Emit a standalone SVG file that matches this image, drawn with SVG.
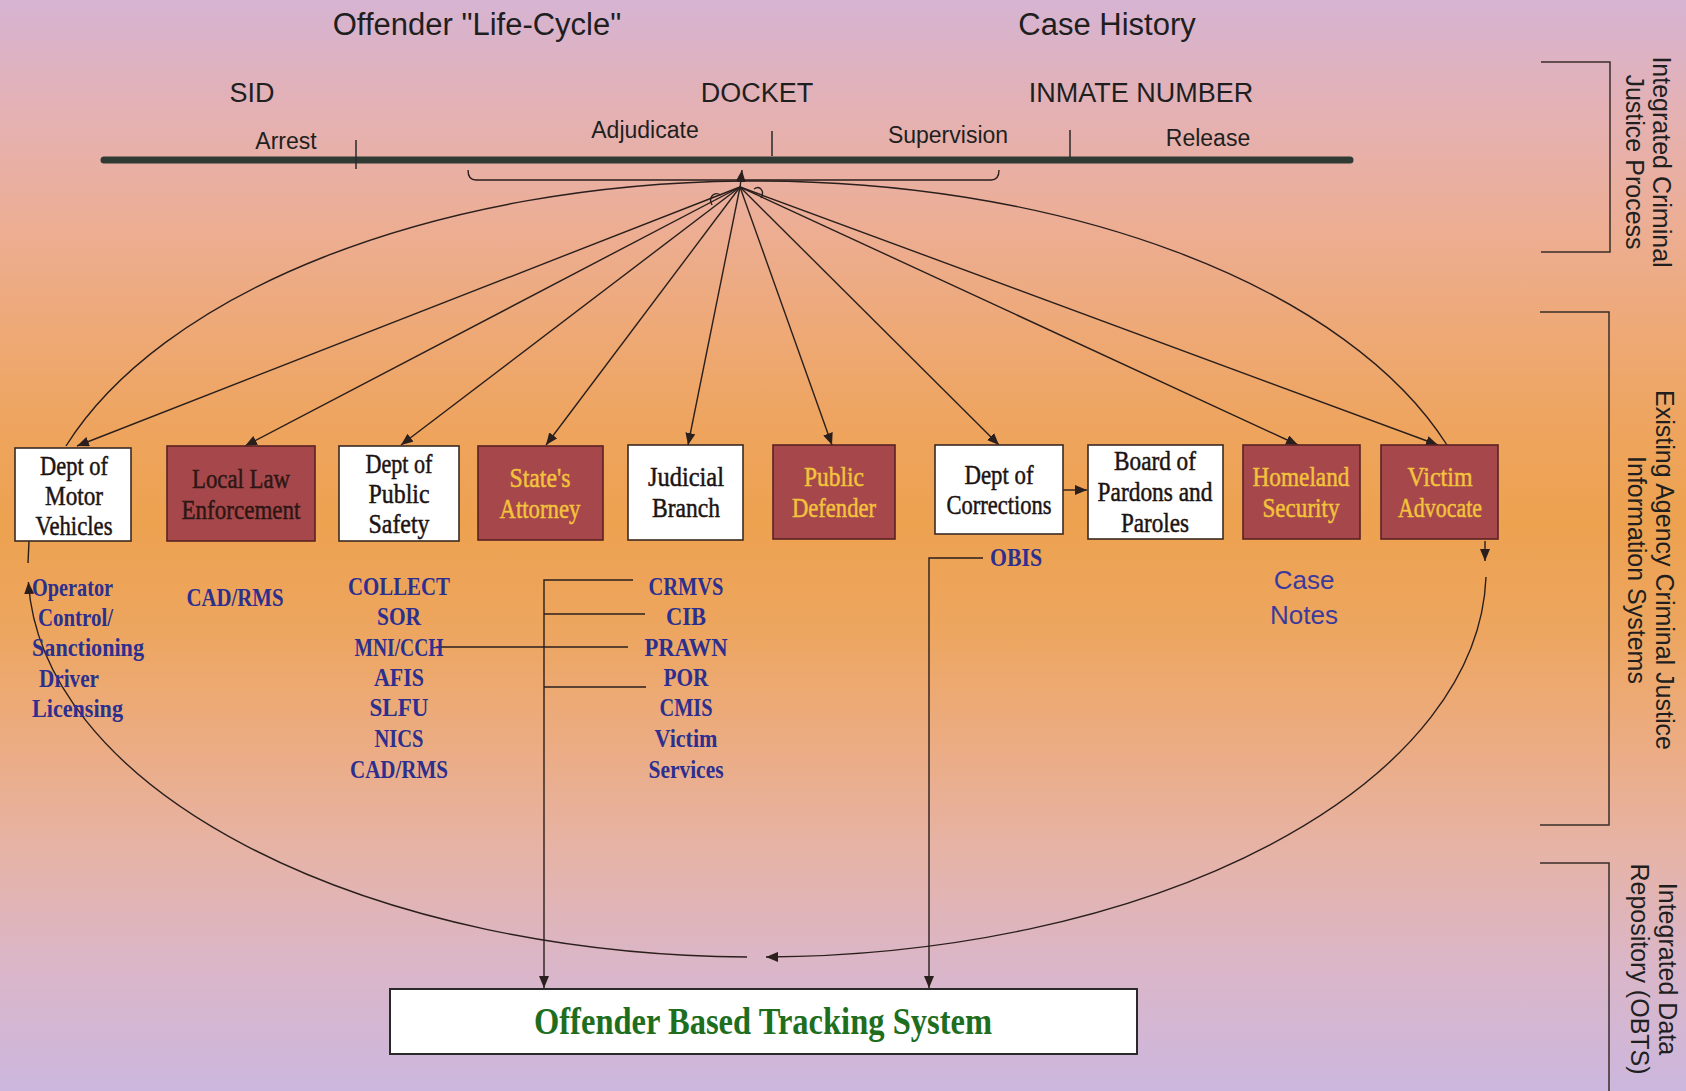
<svg xmlns="http://www.w3.org/2000/svg" width="1686" height="1091" viewBox="0 0 1686 1091">
  <defs>
    <linearGradient id="bg" x1="0" y1="0" x2="0" y2="1">
      <stop offset="0" stop-color="#d6b4d3"/>
      <stop offset="0.1" stop-color="#e4b1b4"/>
      <stop offset="0.2" stop-color="#ecae96"/>
      <stop offset="0.3" stop-color="#eea977"/>
      <stop offset="0.4" stop-color="#eea45c"/>
      <stop offset="0.48" stop-color="#eda250"/>
      <stop offset="0.58" stop-color="#eda660"/>
      <stop offset="0.68" stop-color="#ecac82"/>
      <stop offset="0.78" stop-color="#e6b3a6"/>
      <stop offset="0.88" stop-color="#dbb6c7"/>
      <stop offset="1" stop-color="#ccb7de"/>
    </linearGradient>
    <marker id="arr" markerUnits="userSpaceOnUse" markerWidth="12" markerHeight="10" refX="12" refY="5" orient="auto">
      <path d="M0,0 L12,5 L0,10 z" fill="#2a1f1c"/>
    </marker>
  </defs>
  <style>
    .sans { font-family: "Liberation Sans", Arial, sans-serif; fill: #1f1f1f; }
    .side { font-family: "Liberation Sans", Arial, sans-serif; font-size: 25px; fill: #1f1f1f; text-anchor: middle; }
    .box-w { fill: #ffffff; stroke: #3a2a22; stroke-width: 1.6; }
    .box-r { fill: #a6484b; stroke: #5a2222; stroke-width: 1.6; }
    .lbl { font-family: "Liberation Serif", "Times New Roman", serif; font-size: 28px; text-anchor: middle; stroke-width: 0.5; }
    .dark { fill: #1c1412; stroke: #1c1412; }
    .gold { fill: #f3c33c; stroke: #f3c33c; }
    .maroon { fill: #2e1614; stroke: #2e1614; }
    .sys { font-family: "Liberation Serif", "Times New Roman", serif; font-size: 25px; font-weight: bold; fill: #2d2f8e; }
    .mid { text-anchor: middle; }
    .ln { fill: none; stroke: #2a1f1c; stroke-width: 1.4; }
    .bracket { fill: none; stroke: #3a2e2a; stroke-width: 1.5; }
  </style>

  <rect x="0" y="0" width="1686" height="1091" fill="url(#bg)"/>

  <!-- headings -->
  <g id="headings">
    <text class="sans" x="477" y="35" font-size="31" text-anchor="middle">Offender "Life-Cycle"</text>
    <text class="sans" x="1107" y="35" font-size="31" text-anchor="middle">Case History</text>
    <text class="sans" x="252" y="102" font-size="27" text-anchor="middle">SID</text>
    <text class="sans" x="757" y="102" font-size="27" text-anchor="middle">DOCKET</text>
    <text class="sans" x="1141" y="102" font-size="27" text-anchor="middle">INMATE NUMBER</text>
    <text class="sans" x="286" y="149" font-size="23" text-anchor="middle">Arrest</text>
    <text class="sans" x="645" y="138" font-size="23" text-anchor="middle">Adjudicate</text>
    <text class="sans" x="948" y="143" font-size="23" text-anchor="middle">Supervision</text>
    <text class="sans" x="1208" y="146" font-size="23" text-anchor="middle">Release</text>
  </g>

  <!-- process timeline -->
  <g id="timeline">
    <line x1="104" y1="160" x2="1350" y2="160" stroke="#2e3a33" stroke-width="7" stroke-linecap="round"/>
    <line x1="356" y1="140" x2="356" y2="169" stroke="#2a2a2a" stroke-width="1.5"/>
    <line x1="772" y1="131" x2="772" y2="156" stroke="#2a2a2a" stroke-width="1.5"/>
    <line x1="1070" y1="130" x2="1070" y2="157" stroke="#2a2a2a" stroke-width="1.5"/>
    <path class="ln" d="M468 170 q0 10 8 10 L991 180 q8 0 8 -10"/>
  </g>

  <!-- side brackets and section titles -->
  <g id="sections">
    <path class="bracket" d="M1541 62 H1610 V252 H1541"/>
    <path class="bracket" d="M1540 312 H1609 V825 H1540"/>
    <path class="bracket" d="M1540 863 H1609 V1095"/>
    <g transform="translate(1653 162) rotate(90)">
      <text class="side" x="0" y="0">Integrated Criminal</text>
      <text class="side" x="0" y="27">Justice Process</text>
    </g>
    <g transform="translate(1656 570) rotate(90)">
      <text class="side" x="0" y="0">Existing Agency Criminal Justice</text>
      <text class="side" x="0" y="28">Information Systems</text>
    </g>
    <g transform="translate(1659 969) rotate(90)">
      <text class="side" x="0" y="0">Integrated Data</text>
      <text class="side" x="0" y="28">Repository (OBTS)</text>
    </g>
  </g>

  <!-- connectors -->
  <g id="connectors">
    <!-- fan from the process line to each agency -->
    <line class="ln" x1="740" y1="188" x2="742" y2="170" marker-end="url(#arr)"/>
    <line class="ln" x1="740" y1="187" x2="77" y2="446" marker-end="url(#arr)"/>
    <line class="ln" x1="740" y1="187" x2="245" y2="446" marker-end="url(#arr)"/>
    <line class="ln" x1="740" y1="187" x2="401" y2="445" marker-end="url(#arr)"/>
    <line class="ln" x1="740" y1="187" x2="546" y2="445" marker-end="url(#arr)"/>
    <line class="ln" x1="740" y1="187" x2="688" y2="445" marker-end="url(#arr)"/>
    <line class="ln" x1="740" y1="187" x2="832" y2="445" marker-end="url(#arr)"/>
    <line class="ln" x1="740" y1="187" x2="999" y2="445" marker-end="url(#arr)"/>
    <line class="ln" x1="740" y1="187" x2="1298" y2="445" marker-end="url(#arr)"/>
    <line class="ln" x1="740" y1="187" x2="1438" y2="445" marker-end="url(#arr)"/>
    <!-- small loops at the hub -->
    <path class="ln" d="M712 205 c-4 -8 2 -14 9 -10"/>
    <path class="ln" d="M754 189 c6 -4 11 2 7 9"/>

    <!-- outer cycle -->
    <path class="ln" d="M66 446 A729 388 0 0 1 742 181"/>
    <path class="ln" d="M742 181 A729 388 0 0 1 1447 445"/>
    <line class="ln" x1="29" y1="541" x2="28" y2="563"/>
    <path class="ln" d="M747 957 A729 388 0 0 1 28.4 582" marker-end="url(#arr)"/>
    <line class="ln" x1="1485" y1="541" x2="1485" y2="561" marker-end="url(#arr)"/>
    <path class="ln" d="M1486 577 A729 388 0 0 1 766 957" marker-end="url(#arr)"/>

    <!-- corrections to pardons -->
    <line class="ln" x1="1063" y1="490" x2="1087" y2="490" marker-end="url(#arr)"/>

    <!-- systems feeding the repository -->
    <path class="ln" d="M633 580 H544 V988" marker-end="url(#arr)"/>
    <line class="ln" x1="544" y1="614" x2="645" y2="614"/>
    <line class="ln" x1="436" y1="647" x2="628" y2="647"/>
    <line class="ln" x1="544" y1="687" x2="646" y2="687"/>
    <path class="ln" d="M983 558 H929 V988" marker-end="url(#arr)"/>
  </g>

  <!-- agencies -->
  <g id="dmv">
    <rect class="box-w" x="15" y="448" width="116" height="93"/>
    <text class="lbl dark" x="74" y="475" textLength="68" lengthAdjust="spacingAndGlyphs">Dept of</text>
    <text class="lbl dark" x="74" y="505" textLength="58" lengthAdjust="spacingAndGlyphs">Motor</text>
    <text class="lbl dark" x="74" y="535" textLength="77" lengthAdjust="spacingAndGlyphs">Vehicles</text>
  </g>
  <g id="local-law">
    <rect class="box-r" x="167" y="446" width="148" height="95"/>
    <text class="lbl maroon" x="241" y="488" textLength="98" lengthAdjust="spacingAndGlyphs">Local Law</text>
    <text class="lbl maroon" x="241" y="519" textLength="119" lengthAdjust="spacingAndGlyphs">Enforcement</text>
  </g>
  <g id="public-safety">
    <rect class="box-w" x="339" y="446" width="120" height="95"/>
    <text class="lbl dark" x="399" y="473" textLength="67" lengthAdjust="spacingAndGlyphs">Dept of</text>
    <text class="lbl dark" x="399" y="503" textLength="61" lengthAdjust="spacingAndGlyphs">Public</text>
    <text class="lbl dark" x="399" y="533" textLength="61" lengthAdjust="spacingAndGlyphs">Safety</text>
  </g>
  <g id="states-attorney">
    <rect class="box-r" x="478" y="446" width="125" height="94"/>
    <text class="lbl gold" x="540" y="487" textLength="61" lengthAdjust="spacingAndGlyphs">State's</text>
    <text class="lbl gold" x="540" y="518" textLength="81" lengthAdjust="spacingAndGlyphs">Attorney</text>
  </g>
  <g id="judicial">
    <rect class="box-w" x="628" y="445" width="115" height="95"/>
    <text class="lbl dark" x="686" y="486" textLength="76" lengthAdjust="spacingAndGlyphs">Judicial</text>
    <text class="lbl dark" x="686" y="517" textLength="68" lengthAdjust="spacingAndGlyphs">Branch</text>
  </g>
  <g id="public-defender">
    <rect class="box-r" x="773" y="445" width="122" height="94"/>
    <text class="lbl gold" x="834" y="486" textLength="60" lengthAdjust="spacingAndGlyphs">Public</text>
    <text class="lbl gold" x="834" y="517" textLength="84" lengthAdjust="spacingAndGlyphs">Defender</text>
  </g>
  <g id="corrections">
    <rect class="box-w" x="935" y="445" width="128" height="89"/>
    <text class="lbl dark" x="999" y="484" textLength="69" lengthAdjust="spacingAndGlyphs">Dept of</text>
    <text class="lbl dark" x="999" y="514" textLength="105" lengthAdjust="spacingAndGlyphs">Corrections</text>
  </g>
  <g id="pardons-paroles">
    <rect class="box-w" x="1088" y="445" width="135" height="94"/>
    <text class="lbl dark" x="1155" y="470" textLength="82" lengthAdjust="spacingAndGlyphs">Board of</text>
    <text class="lbl dark" x="1155" y="501" textLength="115" lengthAdjust="spacingAndGlyphs">Pardons and</text>
    <text class="lbl dark" x="1155" y="532" textLength="68" lengthAdjust="spacingAndGlyphs">Paroles</text>
  </g>
  <g id="homeland">
    <rect class="box-r" x="1243" y="445" width="117" height="94"/>
    <text class="lbl gold" x="1301" y="486" textLength="97" lengthAdjust="spacingAndGlyphs">Homeland</text>
    <text class="lbl gold" x="1301" y="517" textLength="77" lengthAdjust="spacingAndGlyphs">Security</text>
  </g>
  <g id="victim-advocate">
    <rect class="box-r" x="1381" y="445" width="117" height="94"/>
    <text class="lbl gold" x="1440" y="486" textLength="65" lengthAdjust="spacingAndGlyphs">Victim</text>
    <text class="lbl gold" x="1440" y="517" textLength="84" lengthAdjust="spacingAndGlyphs">Advocate</text>
  </g>

  <!-- agency information systems -->
  <g id="dmv-systems">
    <text class="sys" x="32" y="596" textLength="81" lengthAdjust="spacingAndGlyphs">Operator</text>
    <text class="sys" x="38" y="626" textLength="75" lengthAdjust="spacingAndGlyphs">Control/</text>
    <text class="sys" x="32" y="656" textLength="112" lengthAdjust="spacingAndGlyphs">Sanctioning</text>
    <text class="sys" x="39" y="687" textLength="60" lengthAdjust="spacingAndGlyphs">Driver</text>
    <text class="sys" x="32" y="717" textLength="91" lengthAdjust="spacingAndGlyphs">Licensing</text>
  </g>
  <g id="local-law-systems">
    <text class="sys mid" x="235" y="606" textLength="97" lengthAdjust="spacingAndGlyphs">CAD/RMS</text>
  </g>
  <g id="public-safety-systems">
    <text class="sys mid" x="399" y="595" textLength="102" lengthAdjust="spacingAndGlyphs">COLLECT</text>
    <text class="sys mid" x="399" y="625" textLength="44" lengthAdjust="spacingAndGlyphs">SOR</text>
    <text class="sys mid" x="399" y="656" textLength="89" lengthAdjust="spacingAndGlyphs">MNI/CCH</text>
    <text class="sys mid" x="399" y="686" textLength="50" lengthAdjust="spacingAndGlyphs">AFIS</text>
    <text class="sys mid" x="399" y="716" textLength="59" lengthAdjust="spacingAndGlyphs">SLFU</text>
    <text class="sys mid" x="399" y="747" textLength="49" lengthAdjust="spacingAndGlyphs">NICS</text>
    <text class="sys mid" x="399" y="778" textLength="98" lengthAdjust="spacingAndGlyphs">CAD/RMS</text>
  </g>
  <g id="court-systems">
    <text class="sys mid" x="686" y="595" textLength="75" lengthAdjust="spacingAndGlyphs">CRMVS</text>
    <text class="sys mid" x="686" y="625" textLength="40" lengthAdjust="spacingAndGlyphs">CIB</text>
    <text class="sys mid" x="686" y="656" textLength="83" lengthAdjust="spacingAndGlyphs">PRAWN</text>
    <text class="sys mid" x="686" y="686" textLength="45" lengthAdjust="spacingAndGlyphs">POR</text>
    <text class="sys mid" x="686" y="716" textLength="53" lengthAdjust="spacingAndGlyphs">CMIS</text>
    <text class="sys mid" x="686" y="747" textLength="63" lengthAdjust="spacingAndGlyphs">Victim</text>
    <text class="sys mid" x="686" y="778" textLength="75" lengthAdjust="spacingAndGlyphs">Services</text>
  </g>
  <g id="corrections-systems">
    <text class="sys mid" x="1016" y="566" textLength="52" lengthAdjust="spacingAndGlyphs">OBIS</text>
  </g>
  <g id="case-notes">
    <text class="sans" x="1304" y="589" font-size="26" text-anchor="middle" style="fill:#3b3a9c">Case</text>
    <text class="sans" x="1304" y="624" font-size="26" text-anchor="middle" style="fill:#3b3a9c">Notes</text>
  </g>

  <!-- repository -->
  <g id="obts">
    <rect x="390" y="989" width="747" height="65" fill="#ffffff" stroke="#2a2a2a" stroke-width="2"/>
    <text x="763" y="1034" font-family="'Liberation Serif', 'Times New Roman', serif" font-size="38" font-weight="bold" fill="#1e6e1e" text-anchor="middle" textLength="458" lengthAdjust="spacingAndGlyphs">Offender Based Tracking System</text>
  </g>
</svg>
